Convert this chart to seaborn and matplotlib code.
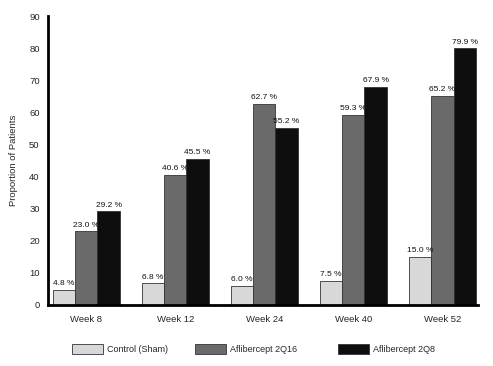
import matplotlib
matplotlib.use("Agg")
import matplotlib.pyplot as plt
import seaborn as sns
import pandas as pd
from matplotlib.patches import Patch

weeks = ["Week 8", "Week 12", "Week 24", "Week 40", "Week 52"]
groups = ["Control (Sham)", "Aflibercept 2Q16", "Aflibercept 2Q8"]
control = [4.8, 6.8, 6.0, 7.5, 15.0]
q16 = [23.0, 40.6, 62.7, 59.3, 65.2]
q8 = [29.2, 45.5, 55.2, 67.9, 79.9]
y_ticks = [0, 10, 20, 30, 40, 50, 60, 70, 80, 90]

colors = ["#d8d8d8", "#6a6a6a", "#0e0e0e"]

rows = []
for g, vals in zip(groups, [control, q16, q8]):
    for w, v in zip(weeks, vals):
        rows.append({"Week": w, "Group": g, "Value": v})
df = pd.DataFrame(rows)

sns.set_style("white")
plt.rcParams["font.family"] = ["Liberation Sans", "DejaVu Sans"]

fig = plt.figure(figsize=(4.93, 3.66), dpi=100)
ax = fig.add_axes([48/493, 1-305/366, (478-48)/493, (305-16)/366])

sns.barplot(data=df, x="Week", y="Value", hue="Group", order=weeks, hue_order=groups,
            palette=colors, width=0.75, edgecolor="#333333", linewidth=0.6,
            saturation=1, ax=ax, legend=False)

for cont in ax.containers:
    for bar in cont:
        h = bar.get_height()
        ax.text(bar.get_x() + bar.get_width()/2, h + 0.8, f"{h:.1f} %",
                ha="center", va="bottom", fontsize=6, color="#111111")

ax.set_xlim(-0.43, 4.4)
ax.set_ylim(0, 90)
ax.set_yticks(y_ticks)
ax.set_yticklabels([str(t) for t in y_ticks], fontsize=6.8)
ax.tick_params(axis="both", direction="out", length=4, width=2, color="black", pad=2)
ax.tick_params(axis="x", labelsize=6.8, pad=3)
ax.set_xlabel("")
ax.set_ylabel("Proportion of Patients", fontsize=6.8, labelpad=8)
for s in ["top", "right"]:
    ax.spines[s].set_visible(False)
for s in ["left", "bottom"]:
    ax.spines[s].set_linewidth(2)
    ax.spines[s].set_color("black")

fs = 6.5
fpx = fs * 100 / 72
starts = [72, 195, 338]
for c, g, x0 in zip(colors, groups, starts):
    h = Patch(facecolor=c, edgecolor="#333333", linewidth=0.6)
    fig.legend([h], [g], loc="center left", bbox_to_anchor=(x0/493, 1-349/366),
               frameon=False, fontsize=fs, handlelength=31/fpx, handleheight=12/fpx,
               handletextpad=4/fpx, borderpad=0, borderaxespad=0)

fig.savefig("out.png", dpi=100)
